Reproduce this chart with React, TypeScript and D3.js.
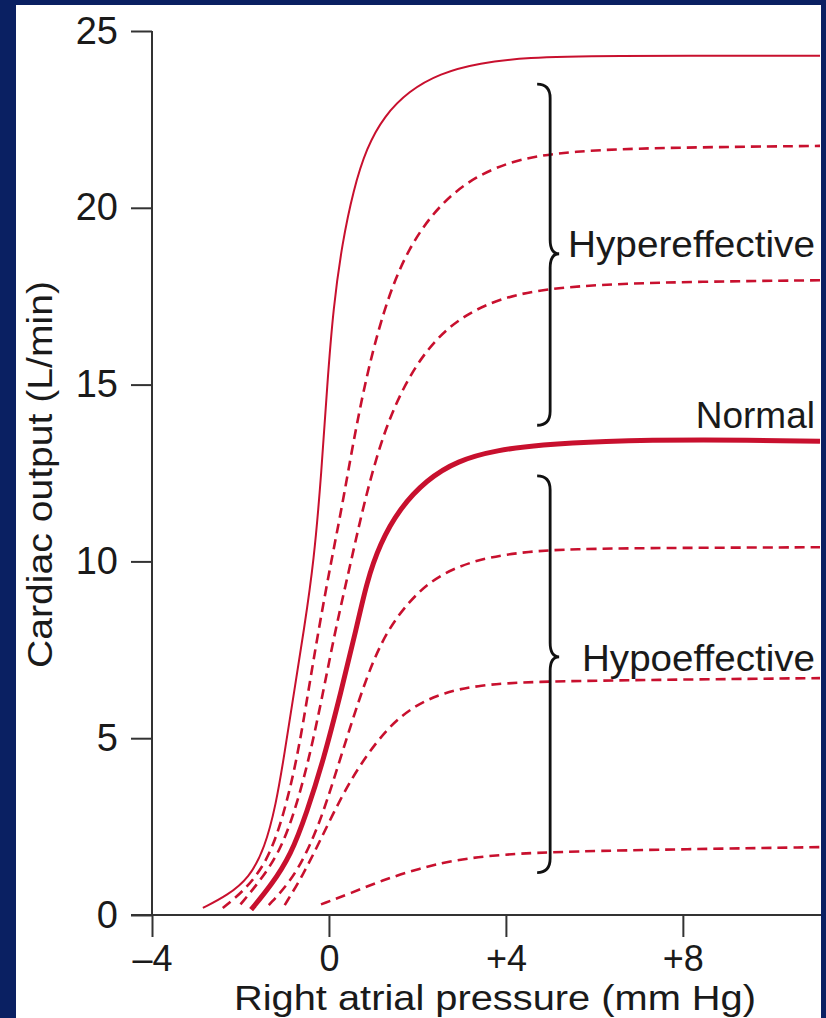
import React, { useEffect, useRef } from 'react'
import * as d3 from 'd3'

// right atrial pressure (mm Hg) vs cardiac output (L/min)
const hyperMax: [number, number][] = [
  [-2.85, 0.2], [-2.3, 0.55], [-1.8, 1.05], [-1.45, 1.9], [-1.2, 3.1], [-1.0, 4.6],
  [-0.79, 6.3], [-0.56, 8.1], [-0.34, 10.0], [-0.17, 12.5], [-0.04, 15.0], [0.1, 17.2],
  [0.3, 19.0], [0.55, 20.5], [0.85, 21.7], [1.25, 22.6], [1.8, 23.3], [2.5, 23.8],
  [3.4, 24.1], [4.5, 24.25], [6.0, 24.3], [11.1, 24.3],
]
const hyperMid: [number, number][] = [
  [-2.4, 0.2], [-1.9, 0.7], [-1.4, 1.5], [-1.05, 2.7], [-0.72, 4.4], [-0.47, 6.3],
  [-0.23, 8.1], [0.05, 10.0], [0.32, 11.7], [0.72, 14.6], [1.24, 17.2], [1.8, 18.9],
  [2.5, 20.1], [3.3, 20.9], [4.3, 21.4], [5.5, 21.6], [7.3, 21.7], [11.1, 21.75],
]
const hyperLow: [number, number][] = [
  [-2.0, 0.3], [-1.6, 0.9], [-1.15, 1.7], [-0.8, 2.8], [-0.45, 4.4], [-0.13, 6.3],
  [0.15, 8.1], [0.5, 10.0], [0.8, 11.7], [1.24, 13.7], [1.78, 15.2], [2.4, 16.3],
  [3.1, 17.0], [3.9, 17.45], [5.0, 17.75], [7.3, 17.9], [11.1, 17.95],
]
const normal: [number, number][] = [
  [-1.76, 0.15], [-1.3, 0.85], [-0.86, 1.7], [-0.5, 2.9], [-0.12, 4.4], [0.27, 6.3],
  [0.62, 8.1], [0.85, 9.4], [1.15, 10.5], [1.6, 11.5], [2.2, 12.3], [2.9, 12.85],
  [3.8, 13.15], [4.8, 13.3], [6.1, 13.4], [8.4, 13.45], [11.1, 13.4],
]
const hypoHigh: [number, number][] = [
  [-1.36, 0.28], [-0.9, 0.9], [-0.52, 1.7], [-0.15, 2.8], [0.25, 4.4], [0.68, 6.1],
  [1.0, 7.2], [1.35, 8.1], [1.8, 8.85], [2.3, 9.45], [2.9, 9.85], [3.6, 10.12],
  [4.5, 10.28], [5.5, 10.35], [7.3, 10.38], [11.1, 10.4],
]
const hypoMid: [number, number][] = [
  [-1.0, 0.28], [-0.6, 1.1], [-0.2, 2.1], [0.3, 3.4], [0.78, 4.4], [1.33, 5.3],
  [1.9, 5.9], [2.6, 6.3], [3.4, 6.5], [4.5, 6.6], [7.3, 6.65], [11.1, 6.7],
]
const hypoLow: [number, number][] = [
  [-0.18, 0.3], [0.5, 0.62], [1.2, 0.98], [2.0, 1.3], [2.8, 1.55], [3.9, 1.72],
  [5.5, 1.8], [8.0, 1.86], [11.1, 1.92],
]

const curves = [
  { data: hyperMax, kind: 'thin' },
  { data: hyperMid, kind: 'dash' },
  { data: hyperLow, kind: 'dash' },
  { data: normal, kind: 'thick' },
  { data: hypoHigh, kind: 'dash' },
  { data: hypoMid, kind: 'dash' },
  { data: hypoLow, kind: 'dash' },
]

const xTicks = [-4, 0, 4, 8]
const xTickLabels = ['\u20134', '0', '+4', '+8']
const yTicks = [0, 5, 10, 15, 20, 25]

// braces: Hypereffective, Hypoeffective
const groupLabels = ['Hypereffective', 'Hypoeffective']
const braceTop = [23.5, 12.42]
const braceMid = [18.7, 7.3]
const braceBottom = [13.85, 1.2]
const labelBaseline = [18.6, 6.9]
const braceAt = 5.0
const normalLabel = 'Normal'
const normalBaseline = 13.77

const W = 826
const H = 1018
const RED = '#c8102e'
const INK = '#1a1a1a'
const FONT = '"Liberation Sans", Arial, Helvetica, sans-serif'

function App() {
  const ref = useRef<SVGSVGElement>(null)

  useEffect(() => {
    const svg = d3.select(ref.current)
    svg.selectAll('*').remove()

    const frame = { left: 16, top: 5, right: 821 }
    const plot = { left: 152, top: 31, right: 820, bottom: 915 }

    const x = d3.scaleLinear().domain([-4, 11.1]).range([plot.left, plot.right])
    const y = d3.scaleLinear().domain([0, 25]).range([plot.bottom, plot.top])

    svg.append('rect').attr('width', W).attr('height', H).attr('fill', '#0a2062')
    svg.append('rect')
      .attr('x', frame.left).attr('y', frame.top)
      .attr('width', frame.right - frame.left).attr('height', H - frame.top)
      .attr('fill', '#ffffff')

    svg.append('clipPath').attr('id', 'plotclip')
      .append('rect')
      .attr('x', plot.left).attr('y', 0)
      .attr('width', frame.right - plot.left).attr('height', plot.bottom)

    // axes
    const xAxis = svg.append('g')
      .attr('transform', `translate(0,${plot.bottom})`)
      .call(d3.axisBottom(x).tickValues(xTicks).tickSize(22).tickSizeOuter(0).tickPadding(8)
        .tickFormat((d, i) => xTickLabels[i]))
    const yAxis = svg.append('g')
      .attr('transform', `translate(${plot.left},0)`)
      .call(d3.axisLeft(y).tickValues(yTicks).tickSize(21).tickSizeOuter(0).tickPadding(13))

    for (const g of [xAxis, yAxis]) {
      g.selectAll('path, line').attr('stroke', '#333').attr('stroke-width', 2)
      g.selectAll('text').attr('fill', INK).attr('font-family', FONT)
    }
    xAxis.selectAll('text').attr('font-size', 36)
    yAxis.selectAll('text').attr('font-size', 38)
    xAxis.select('.domain').attr('d', `M${plot.left - 21},0H${frame.right}`)
    yAxis.select('.domain').attr('d', `M0,${plot.top}V${plot.bottom}`)

    // axis titles
    svg.append('text')
      .attr('x', 234).attr('y', 1010)
      .attr('font-family', FONT).attr('font-size', 35).attr('fill', INK)
      .attr('textLength', 522).attr('lengthAdjust', 'spacingAndGlyphs')
      .text('Right atrial pressure (mm Hg)')
    svg.append('text')
      .attr('transform', 'translate(52,668) rotate(-90)')
      .attr('font-family', FONT).attr('font-size', 35).attr('fill', INK)
      .attr('textLength', 387).attr('lengthAdjust', 'spacingAndGlyphs')
      .text('Cardiac output (L/min)')

    // curves
    const line = d3.line<[number, number]>()
      .x(d => x(d[0]))
      .y(d => y(d[1]))
      .curve(d3.curveBasis)

    const lines = svg.append('g').attr('clip-path', 'url(#plotclip)')
    curves.forEach(c => {
      lines.append('path')
        .datum(c.data)
        .attr('fill', 'none')
        .attr('stroke', RED)
        .attr('stroke-width', c.kind === 'thick' ? 5 : c.kind === 'thin' ? 2 : 2.6)
        .attr('stroke-dasharray', c.kind === 'dash' ? '10,6' : null)
        .attr('stroke-linejoin', 'round')
        .attr('d', line)
    })

    // braces and labels
    const xs = x(braceAt)
    const labelStart = [568, 582]
    const labelLength = [247, 233]
    groupLabels.forEach((label, i) => {
      const t = y(braceTop[i]), m = y(braceMid[i]), b = y(braceBottom[i])
      const x0 = xs - 13, xc = xs + 9, r = 14
      const p = d3.path()
      p.moveTo(x0, t)
      p.quadraticCurveTo(xs, t, xs, t + r)
      p.lineTo(xs, m - r)
      p.quadraticCurveTo(xs, m, xc, m)
      p.quadraticCurveTo(xs, m, xs, m + r)
      p.lineTo(xs, b - r)
      p.quadraticCurveTo(xs, b, x0, b)
      svg.append('path')
        .attr('d', p.toString())
        .attr('fill', 'none')
        .attr('stroke', '#111')
        .attr('stroke-width', 2.8)

      svg.append('text')
        .attr('x', labelStart[i]).attr('y', y(labelBaseline[i]))
        .attr('font-family', FONT).attr('font-size', 36).attr('fill', INK)
        .attr('textLength', labelLength[i]).attr('lengthAdjust', 'spacingAndGlyphs')
        .text(label)
    })

    svg.append('text')
      .attr('x', 815).attr('y', y(normalBaseline))
      .attr('text-anchor', 'end')
      .attr('font-family', FONT).attr('font-size', 37).attr('fill', INK)
      .text(normalLabel)
  }, [])

  return (
    <svg ref={ref} width={W} height={H}
      style={{ position: 'absolute', left: 0, top: 0, display: 'block' }} />
  )
}

export default App
